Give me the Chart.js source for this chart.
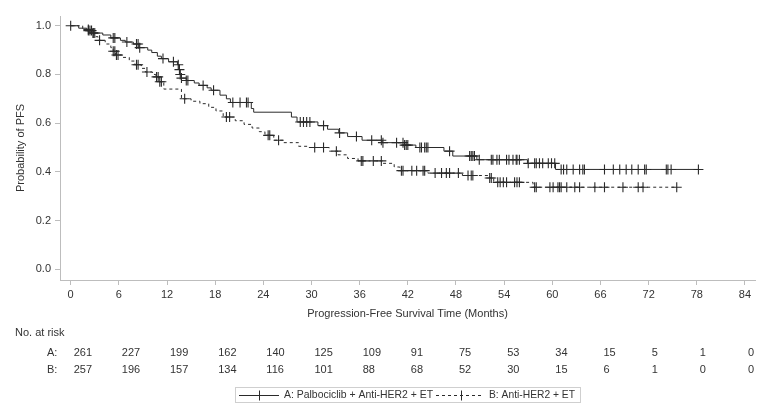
<!DOCTYPE html>
<html>
<head>
<meta charset="utf-8">
<script src="https://cdn.jsdelivr.net/npm/chart.js@4.4.1/dist/chart.umd.min.js"></script>
<style>
html,body{margin:0;padding:0;background:#fff;}
canvas{display:block;}
</style>
</head>
<body>
<canvas id="c" width="764" height="409"></canvas>
<script>
// ---- Data ----
const xTickVals = [0,6,12,18,24,30,36,42,48,54,60,66,72,78,84];
const yTickVals = [0,0.2,0.4,0.6,0.8,1.0];

// Arm A: Palbociclib + Anti-HER2 + ET  (step times in months, survival after step)
const stepTimesA = [0,1.0,2.0,2.8,4.0,5.0,6.2,6.8,7.8,8.5,9.6,10.1,10.8,11.3,12.2,13.3,13.5,13.6,13.75,14.4,15.4,16.0,17.0,17.5,18.6,19.4,19.9,22.5,22.8,27.5,28.2,30.8,32.0,33.4,34.5,36.3,38.8,41.6,43.0,46.5,47.6,50.6,56.9,60.4];
const survA      = [1.0,0.99,0.98,0.97,0.962,0.95,0.94,0.933,0.925,0.91,0.9,0.89,0.875,0.865,0.852,0.84,0.82,0.80,0.785,0.775,0.765,0.755,0.745,0.735,0.715,0.7,0.685,0.66,0.645,0.625,0.605,0.59,0.575,0.56,0.545,0.53,0.52,0.51,0.5,0.485,0.465,0.45,0.435,0.41];
const censorA    = [0,2.2,2.4,2.6,2.8,3.0,5.3,5.5,7.0,8.2,8.4,8.6,11.5,12.8,13.4,13.55,13.65,13.8,14.4,14.6,16.5,17.8,20.2,21.1,21.9,22.1,28.6,29.0,29.4,29.8,31.5,33.5,35.6,37.5,38.7,38.9,40.6,41.4,41.6,41.8,42.0,43.5,43.7,44.1,44.3,44.5,47.2,49.7,49.9,50.1,50.3,50.9,52.4,52.6,53.1,53.4,54.3,54.6,55.1,55.5,55.6,55.9,57.0,57.8,58.0,58.4,58.8,59.5,59.9,60.3,61.1,61.4,61.8,62.6,63.4,63.8,64.0,66.5,67.6,68.4,69.2,69.9,70.7,71.5,71.7,74.2,74.4,74.8,78.2];

// Arm B: Anti-HER2 + ET
const stepTimesB = [0,1.5,2.4,2.9,3.4,4.3,5.0,5.3,5.6,6.4,7.3,8.0,8.8,9.3,10.2,10.6,11.0,11.6,13.8,15.0,16.1,17.2,18.1,19.0,20.5,21.6,22.6,23.5,24.2,25.3,26.5,28.4,29.6,32.2,33.3,34.5,35.8,38.9,40.3,41.0,44.5,48.8,52.2,52.7,57.6];
const survB      = [1.0,0.985,0.97,0.955,0.94,0.925,0.91,0.895,0.88,0.87,0.855,0.84,0.825,0.81,0.80,0.79,0.77,0.74,0.70,0.69,0.68,0.665,0.65,0.625,0.61,0.595,0.58,0.565,0.55,0.53,0.52,0.505,0.50,0.485,0.47,0.455,0.445,0.435,0.42,0.405,0.395,0.385,0.375,0.357,0.337];
const censorB    = [2.2,2.8,3.6,5.3,5.5,5.7,5.9,8.2,8.4,9.5,10.7,10.9,11.1,11.3,14.2,19.4,19.8,24.6,24.8,25.9,30.4,31.5,33.1,36.2,36.4,37.7,38.7,41.2,41.4,42.5,43.1,43.9,44.1,45.4,46.2,46.8,47.2,48.3,49.5,49.9,50.1,52.2,52.4,53.2,53.5,53.9,54.3,55.3,55.6,55.9,57.8,58.0,59.7,60.1,60.7,60.9,61.1,61.8,62.8,63.4,65.3,66.5,68.8,70.7,71.3,75.5];

// Numbers at risk
const riskTimes = [0,6,12,18,24,30,36,42,48,54,60,66,72,78,84];
const riskA = [261,227,199,162,140,125,109,91,75,53,34,15,5,1,0];
const riskB = [257,196,157,134,116,101,88,68,52,30,15,6,1,0,0];

const labelA = 'A: Palbociclib + Anti-HER2 + ET';
const labelB = 'B: Anti-HER2 + ET';

// ---- helpers ----
function survAt(ts, ss, t){ let v = ss[0]; for(let i=0;i<ts.length;i++){ if(ts[i] <= t) v = ss[i]; } return v; }
function stepPoints(ts, ss, cens){
  const pts = ts.map((t,i)=>({x:t,y:ss[i]}));
  const end = Math.max(...cens);
  if(end > ts[ts.length-1]) pts.push({x:end,y:ss[ss.length-1]});
  return pts;
}
function censorPoints(ts, ss, cens){ return cens.map(t=>({x:t,y:survAt(ts,ss,t)})); }

const ink = '#2a2a2a';
const txt = '#333333';
const axisCol = '#bdbdbd';
const FONT = '"Liberation Sans", Arial, sans-serif';
Chart.defaults.font.family = FONT;
Chart.defaults.font.size = 11;
Chart.defaults.color = txt;

const extras = {
  id:'extras',
  afterDraw(chart){
    const ctx = chart.ctx, xs = chart.scales.x;
    ctx.save();
    ctx.font = '11px ' + FONT;
    ctx.fillStyle = txt;
    ctx.textBaseline = 'middle';
    ctx.textAlign = 'left';
    ctx.fillText('No. at risk', 15, 333);
    ctx.fillText('A:', 47, 352.5);
    ctx.fillText('B:', 47, 370);
    riskTimes.forEach((t,i)=>{
      const px = xs.getPixelForValue(t) + 3;
      ctx.fillText(String(riskA[i]), px, 352.5);
      ctx.fillText(String(riskB[i]), px, 370);
    });
    // legend
    ctx.strokeStyle = '#cfcfcf';
    ctx.lineWidth = 1;
    ctx.strokeRect(235.5, 387.5, 345, 15);
    const ly = 395.5;
    ctx.strokeStyle = ink;
    ctx.lineWidth = 1;
    ctx.beginPath(); ctx.moveTo(239, ly); ctx.lineTo(279, ly); ctx.stroke();
    ctx.beginPath(); ctx.moveTo(259.5, ly-5); ctx.lineTo(259.5, ly+5); ctx.stroke();
    ctx.font = '10.5px ' + FONT;
    const wA = ctx.measureText(labelA).width;
    ctx.save();
    ctx.translate(284, ly);
    ctx.scale(149 / wA, 1);
    ctx.fillText(labelA, 0, 0);
    ctx.restore();
    ctx.setLineDash([3,3]);
    ctx.beginPath(); ctx.moveTo(436, ly); ctx.lineTo(481, ly); ctx.stroke();
    ctx.setLineDash([]);
    ctx.beginPath(); ctx.moveTo(461.5, ly-5); ctx.lineTo(461.5, ly+5); ctx.stroke();
    const wB = ctx.measureText(labelB).width;
    ctx.save();
    ctx.translate(489, ly);
    ctx.scale(86 / wB, 1);
    ctx.fillText(labelB, 0, 0);
    ctx.restore();
    ctx.restore();
  }
};

new Chart(document.getElementById('c'), {
  type:'line',
  data:{
    datasets:[
      {label:labelA, data:stepPoints(stepTimesA,survA,censorA), stepped:true, borderColor:ink, borderWidth:1, pointRadius:0, fill:false},
      {label:labelB, data:stepPoints(stepTimesB,survB,censorB), stepped:true, borderColor:ink, borderWidth:1, borderDash:[3,3], pointRadius:0, fill:false},
      {type:'scatter', label:'censA', data:censorPoints(stepTimesA,survA,censorA), showLine:false, pointStyle:'cross', pointRadius:5, pointBorderWidth:1.1, borderColor:ink, backgroundColor:ink},
      {type:'scatter', label:'censB', data:censorPoints(stepTimesB,survB,censorB), showLine:false, pointStyle:'cross', pointRadius:5, pointBorderWidth:1.1, borderColor:ink, backgroundColor:ink}
    ]
  },
  options:{
    responsive:false,
    animation:false,
    devicePixelRatio:1,
    layout:{padding:{left:0,top:16,right:9,bottom:84}},
    plugins:{legend:{display:false}, tooltip:{enabled:false}},
    scales:{
      x:{
        type:'linear', min:-1.33, max:85.25,
        afterBuildTicks(s){ s.ticks = xTickVals.map(v=>({value:v})); },
        afterFit(s){ s.height = 45; },
        grid:{drawOnChartArea:false, drawTicks:true, tickLength:5, color:axisCol},
        border:{display:true, color:axisCol, width:1},
        ticks:{padding:3, color:txt, font:{size:11}, maxRotation:0, autoSkip:false},
        title:{display:true, text:'Progression-Free Survival Time (Months)', color:txt, font:{size:11}, padding:{top:0,bottom:4}}
      },
      y:{
        type:'linear', min:-0.044, max:1.04,
        afterBuildTicks(s){ s.ticks = yTickVals.map(v=>({value:v})); },
        afterFit(s){ s.width = 60; },
        grid:{drawOnChartArea:false, drawTicks:true, tickLength:5, color:axisCol},
        border:{display:true, color:axisCol, width:1},
        ticks:{padding:4, color:txt, font:{size:11}, callback:v=>Number(v).toFixed(1)},
        title:{display:true, text:'Probability of PFS', color:txt, font:{size:11}, padding:{top:14,bottom:0}}
      }
    }
  },
  plugins:[extras]
});
</script>
</body>
</html>
